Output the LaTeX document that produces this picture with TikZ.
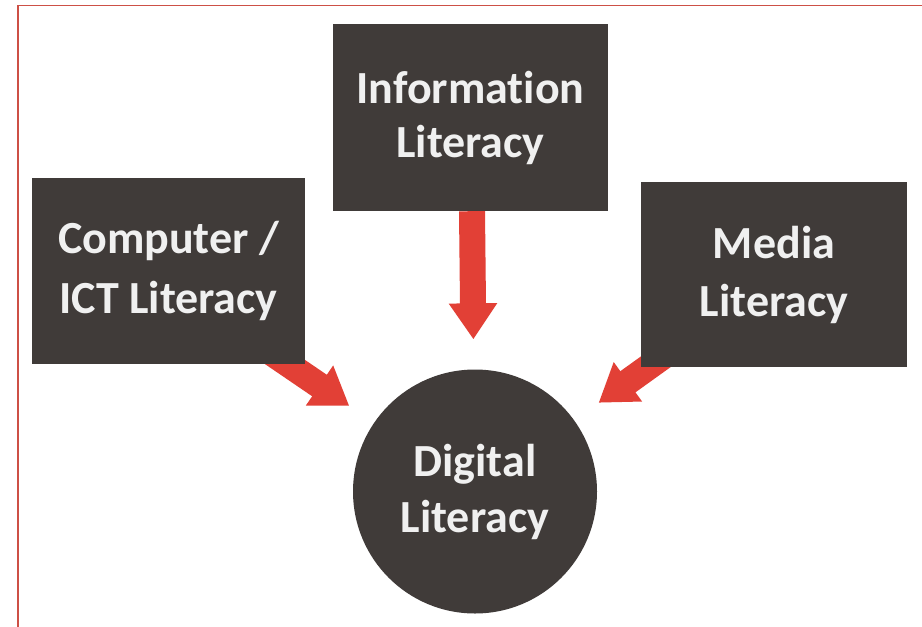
\documentclass[tikz,border=0pt]{standalone}
\usepackage{fontspec}
\setmainfont{Carlito}[Ligatures=NoCommon]
\usetikzlibrary{arrows.meta,calc}
\pgfdeclarelayer{behind}
\pgfsetlayers{behind,main}
\definecolor{boxfill}{RGB}{64,59,57}
\definecolor{boxtext}{RGB}{240,240,240}
\definecolor{arrowred}{RGB}{226,64,54}
\definecolor{framered}{RGB}{205,80,70}
\tikzset{
  darkbox/.style={draw=none, fill=boxfill, text=boxtext, align=center, inner sep=0pt,
    font=\bfseries\fontsize{46}{56}\selectfont},
  darkcircle/.style={circle, draw=none, fill=boxfill, text=boxtext, align=center, inner sep=0pt,
    minimum size=244pt, font=\bfseries\fontsize{46}{56}\selectfont},
  bigarrow/.style={draw=arrowred, line width=26pt, shorten >=30pt,
    -{Triangle[width=46pt,length=36pt]}},
  frameline/.style={draw=framered, line width=1.6pt}
}
\begin{document}
\begin{tikzpicture}[x=1pt,y=-1pt]
\useasboundingbox (0,0) rectangle (922,627);
\begin{pgfonlayer}{behind}
\fill[white] (0,0) rectangle (922,627);
\end{pgfonlayer}
\coordinate (ftop) at (18,5.5);
\coordinate (fright) at (922,5.5);
\coordinate (fbot) at (18,627);
\draw[frameline] (fbot) -- (ftop) -- (fright);

\node[darkcircle] (dig) at (475,491.5) {Digital\\Literacy};
\node[darkbox, minimum width=275pt, minimum height=187pt,
      font=\bfseries\fontsize{46}{54}\selectfont] (info) at (470.5,117.5) {Informat\kern0pt ion\\Literacy};
\node[darkbox, minimum width=273pt, minimum height=186pt,
      font=\bfseries\fontsize{46}{60}\selectfont] (comp) at (168.5,271) {Computer /\\ICT Literacy};
\node[darkbox, minimum width=266pt, minimum height=185pt,
      font=\bfseries\fontsize{46}{58}\selectfont] (media) at (774,274.5) {Media\\Literacy};

\path (info.south) ++(1.5,0) coordinate (infostart);
\path (comp.south east) ++(-50,-22.5) coordinate (compstart);
\path (media.south west) ++(45,-27) coordinate (mediastart);
\begin{pgfonlayer}{behind}
\draw[bigarrow] (infostart) -- (dig);
\draw[bigarrow] (compstart) -- (dig);
\draw[bigarrow] (mediastart) -- (dig);
\end{pgfonlayer}
\end{tikzpicture}
\end{document}
